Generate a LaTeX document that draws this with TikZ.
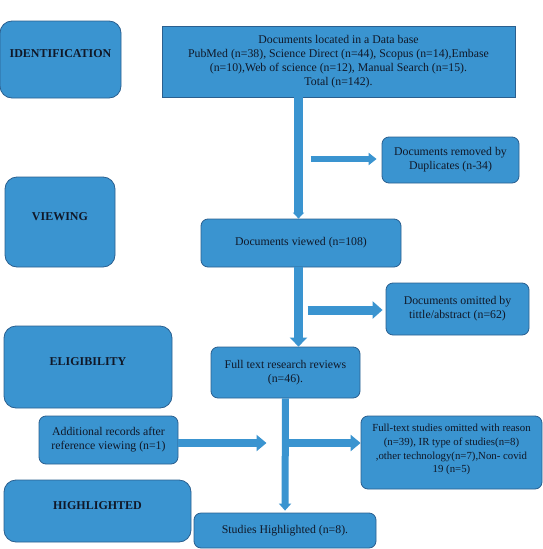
\documentclass[tikz,border=0pt]{standalone}
\usepackage{fontspec}
\setmainfont{Liberation Serif}
\usepackage{tikz}
\usetikzlibrary{arrows.meta,calc}
\definecolor{boxfill}{HTML}{3A94D0}
\definecolor{edge}{HTML}{2A5F8F}
\definecolor{ink}{HTML}{101828}
\tikzset{
  box/.style={draw=edge, fill=boxfill, line width=0.8pt, rounded corners=7pt,
    align=center, text=ink, font=\fontsize{11.8}{14}\selectfont, inner sep=2pt},
  phase/.style={box, rounded corners=12pt, font=\bfseries\fontsize{12}{14}\selectfont,
    text height=8pt, text depth=11.5pt},
  flow/.style={draw=boxfill, line width=#1},
  flow/.default=8pt,
}
\begin{document}
\begin{tikzpicture}[x=1pt,y=-1pt]
  \useasboundingbox (0,0) rectangle (543,549);
  % phase labels
  \node[phase, minimum width=121pt, minimum height=77pt] (ident) at (60.5,59.5) {IDENTIFICATION};
  \node[phase, minimum width=110pt, minimum height=90pt] (viewing) at (60,222) {VIEWING};
  \node[phase, minimum width=168pt, minimum height=82pt] (elig) at (88,367) {ELIGIBILITY};
  \node[phase, minimum width=187pt, minimum height=62pt] (high) at (97.5,511) {HIGHLIGHTED};
  % flow boxes
  \node[box, rounded corners=0pt, minimum width=353pt, minimum height=71pt] (found) at (338.5,61.5)
    {Documents located in a Data base\\
     PubMed (n=38), Science Direct (n=44), Scopus (n=14),Embase\\
     (n=10),Web of science (n=12), Manual Search (n=15).\\
     Total (n=142).};
  \node[box, minimum width=137pt, minimum height=46pt] (dup) at (450.5,160)
    {Documents removed by\\ Duplicates (n-34)};
  \node[box, minimum width=200pt, minimum height=48pt] (viewed) at (301,243) {Documents viewed (n=108)};
  \node[box, minimum width=143pt, minimum height=52pt] (omit) at (457.5,309)
    {Documents omitted by\\ tittle/abstract (n=62)};
  \node[box, minimum width=149pt, minimum height=51pt] (fulltext) at (285.5,372.5)
    {Full text research reviews\\ (n=46).};
  \node[box, minimum width=139pt, minimum height=48pt] (extra) at (108.5,440)
    {Additional records after\\ reference viewing (n=1)};
  \node[box, minimum width=181pt, minimum height=73pt, font=\fontsize{10.8}{13.7}\selectfont] (ftomit) at (451.5,452.5)
    {Full-text studies omitted with reason\\ (n=39), IR type of studies(n=8)\\
     ,other technology(n=7),Non- covid\\ 19 (n=5)\\[-6pt]};
  \node[box, minimum width=182pt, minimum height=35pt] (incl) at (285,530.5) {Studies Highlighted (n=8).};
  % arrows
  \coordinate (spine) at (298.5,0);
  \coordinate (j3) at (fulltext.south |- 0,443);
  \draw[flow=9pt, -{Triangle[width=11pt,length=6pt]}] (found.south -| spine) -- (viewed.north -| spine);
  \draw[flow=6pt, -{Triangle[width=12pt,length=8pt]}] ($(dup.west -| spine)+(12,-1)$) -- ($(dup.west)+(-5,-1)$);
  \draw[flow=9pt, -{Triangle[width=17pt,length=9pt]}] (viewed.south -| spine) -- (fulltext.north -| spine);
  \draw[flow=9pt, -{Triangle[width=17pt,length=10pt]}] ($(omit.west -| spine)+(9,1)$) -- ($(omit.west)+(-3,1)$);
  \draw[flow=7pt, -{Triangle[width=12pt,length=7pt]}, shorten >=2pt] (fulltext.south) -- (incl.north);
  \draw[flow=8pt, -{Triangle[width=16pt,length=10pt]}] (extra.east |- j3) -- ($(j3)+(-19,0)$);
  \draw[flow=8pt, -{Triangle[width=16pt,length=10pt]}] (j3) -- (j3 -| ftomit.west);
\end{tikzpicture}
\end{document}
